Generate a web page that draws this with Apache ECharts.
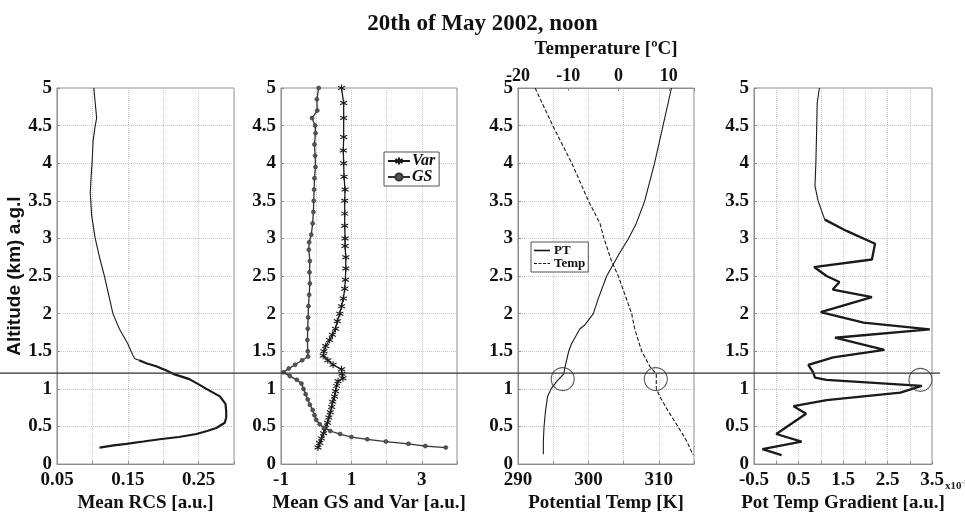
<!DOCTYPE html>
<html><head><meta charset="utf-8">
<script src="https://cdn.jsdelivr.net/npm/echarts@6/dist/echarts.min.js"></script>
<style>html,body{margin:0;padding:0;background:#fff}#c{width:965px;height:518px}</style>
</head><body><div id="c"></div>
<script>
// ---------- Panel 1: Mean RCS ----------
const altRCS = [5.0, 4.8, 4.6, 4.5, 4.3, 4.0, 3.8, 3.6, 3.3, 3.0, 2.75, 2.5, 2.25, 2.0, 1.8, 1.6, 1.45, 1.4, 1.38, 1.34, 1.3, 1.25, 1.2, 1.13, 1.05, 1.0, 0.9, 0.8, 0.7, 0.62, 0.55, 0.48, 0.44, 0.4, 0.36, 0.33, 0.3, 0.27, 0.25, 0.22];
const rcsVal = [0.102, 0.104, 0.106, 0.104, 0.101, 0.0995, 0.098, 0.097, 0.099, 0.104, 0.110, 0.117, 0.123, 0.129, 0.138, 0.150, 0.157, 0.160, 0.166, 0.176, 0.190, 0.203, 0.214, 0.237, 0.252, 0.261, 0.280, 0.288, 0.289, 0.289, 0.287, 0.275, 0.262, 0.247, 0.222, 0.195, 0.172, 0.148, 0.130, 0.110];

// ---------- Panel 2: Mean GS and Var ----------
const altVar = [5.0, 4.8, 4.6, 4.35, 4.17, 4.0, 3.82, 3.65, 3.5, 3.33, 3.17, 3.0, 2.9, 2.75, 2.6, 2.45, 2.33, 2.2, 2.1, 2.0, 1.9, 1.8, 1.72, 1.65, 1.57, 1.5, 1.44, 1.38, 1.32, 1.26, 1.2, 1.14, 1.1, 1.04, 0.97, 0.9, 0.83, 0.76, 0.69, 0.62, 0.55, 0.48, 0.41, 0.34, 0.28, 0.22];
const varVal = [0.72, 0.78, 0.78, 0.78, 0.77, 0.78, 0.79, 0.82, 0.81, 0.81, 0.81, 0.82, 0.82, 0.84, 0.84, 0.83, 0.81, 0.77, 0.72, 0.67, 0.60, 0.55, 0.46, 0.38, 0.27, 0.22, 0.20, 0.33, 0.48, 0.72, 0.73, 0.76, 0.62, 0.58, 0.55, 0.52, 0.47, 0.44, 0.40, 0.36, 0.32, 0.26, 0.21, 0.15, 0.10, 0.05];
const altGS = [5.0, 4.85, 4.7, 4.6, 4.5, 4.4, 4.25, 4.1, 3.95, 3.8, 3.65, 3.5, 3.35, 3.2, 3.05, 2.95, 2.85, 2.7, 2.55, 2.4, 2.25, 2.1, 1.95, 1.8, 1.65, 1.5, 1.43, 1.38, 1.32, 1.27, 1.22, 1.17, 1.12, 1.07, 1.0, 0.93, 0.86, 0.79, 0.72, 0.65, 0.59, 0.53, 0.48, 0.44, 0.4, 0.36, 0.33, 0.3, 0.27, 0.24, 0.22];
const gsVal = [0.07, 0.02, 0.03, -0.12, -0.03, -0.02, -0.05, -0.03, -0.02, -0.05, -0.06, -0.07, -0.08, -0.10, -0.14, -0.20, -0.21, -0.18, -0.19, -0.18, -0.20, -0.22, -0.23, -0.24, -0.25, -0.24, -0.23, -0.40, -0.60, -0.78, -0.93, -0.75, -0.55, -0.42, -0.36, -0.30, -0.24, -0.18, -0.10, -0.05, 0.0, 0.10, 0.22, 0.40, 0.68, 1.00, 1.45, 1.98, 2.62, 3.10, 3.68];

// ---------- Panel 3: Potential temperature (K) and temperature (C) ----------
const altPT = [5.0, 4.5, 4.0, 3.5, 3.2, 3.0, 2.8, 2.7, 2.5, 2.2, 2.0, 1.85, 1.8, 1.6, 1.5, 1.3, 1.2, 1.1, 1.0, 0.9, 0.7, 0.5, 0.3, 0.13];
const ptVal = [311.8, 310.6, 309.4, 308.0, 306.8, 305.7, 304.4, 303.8, 302.6, 301.4, 300.7, 299.5, 298.8, 297.6, 297.2, 296.7, 296.5, 295.5, 294.7, 294.2, 293.9, 293.7, 293.6, 293.6];
const altTemp = [5.0, 4.5, 4.0, 3.5, 3.2, 3.0, 2.7, 2.5, 2.0, 1.8, 1.5, 1.3, 1.2, 1.0, 0.9, 0.7, 0.5, 0.3, 0.12];
const tempVal = [-16.6, -13.1, -9.3, -6.0, -3.7, -2.9, -1.4, -0.05, 2.6, 3.2, 4.6, 6.2, 7.5, 7.5, 8.2, 9.9, 11.8, 13.6, 14.8];

// ---------- Panel 4: Pot temp gradient ----------
const altGrad = [5.0, 4.8, 4.5, 4.0, 3.7, 3.5, 3.25, 3.1, 2.93, 2.72, 2.62, 2.5, 2.42, 2.32, 2.22, 2.02, 1.88, 1.79, 1.68, 1.52, 1.42, 1.32, 1.22, 1.15, 1.12, 1.04, 0.95, 0.85, 0.77, 0.67, 0.4, 0.3, 0.2, 0.12];
const gradVal = [0.97, 0.92, 0.91, 0.89, 0.87, 0.94, 1.09, 1.58, 2.22, 2.15, 0.85, 1.13, 1.42, 1.27, 2.15, 1.0, 1.96, 3.45, 1.32, 2.43, 1.28, 0.72, 0.83, 0.87, 1.13, 3.27, 2.79, 1.13, 0.39, 0.67, 0.0, 0.57, -0.31, 0.12];

// ---------- Tick labels ----------
const rcsTicks = ['0.05', '0.15', '0.25'];
const gsTicks = ['-1', '1', '3'];
const ptTicks = ['290', '300', '310'];
const tempTicks = ['-20', '-10', '0', '10'];
const gradTicks = ['-0.5', '0.5', '1.5', '2.5', '3.5'];

// ---------- Markers / reference ----------
const inversionAlt = 1.21;
const circlePT = [296.35, 1.13];
const circleTemp = [7.4, 1.13];
const circleGrad = [3.24, 1.12];

const SERIF = 'Liberation Serif, Times New Roman, serif';
const INK = '#1a1a1a';
const FRAME = '#8c8c8c';

function pick(list) {
  return function (v) {
    const s = String(parseFloat(Number(v).toFixed(4)));
    return list.indexOf(s) >= 0 ? s : '';
  };
}
const zip = (xs, ys) => xs.map((x, i) => [x, ys[i]]);

const grids = [
  { left: 57, top: 88, width: 177, height: 386 },
  { left: 281, top: 88, width: 176, height: 386 },
  { left: 518, top: 88, width: 176, height: 386 },
  { left: 754, top: 88, width: 178, height: 386 }
].map(g => Object.assign({ show: true, borderColor: FRAME, borderWidth: 1, containLabel: false }, g));

const labelStyle = { fontFamily: SERIF, fontWeight: 'bold', fontSize: 19, color: '#111' };
const nameStyle = { fontFamily: SERIF, fontWeight: 'bold', fontSize: 19, color: '#111' };
const splitStyle = { show: true, lineStyle: { color: '#c9c9c9', type: 'dotted', width: 1 } };

function xAx(gi, min, max, interval, ticks, name, extra) {
  return Object.assign({
    type: 'value', gridIndex: gi, min, max, interval,
    axisLine: { show: true, onZero: false, lineStyle: { color: FRAME } },
    axisTick: { show: true, inside: true, length: 3, lineStyle: { color: FRAME } },
    axisLabel: Object.assign({ margin: 6, formatter: pick(ticks), showMaxLabel: true, showMinLabel: true }, labelStyle),
    splitLine: splitStyle,
    name, nameLocation: 'middle', nameGap: 27, nameTextStyle: nameStyle
  }, extra || {});
}
function yAx(gi, extra) {
  return Object.assign({
    type: 'value', gridIndex: gi, min: 0, max: 5, interval: 0.5,
    axisLine: { show: true, onZero: false, lineStyle: { color: FRAME } },
    axisTick: { show: true, inside: true, length: 3, lineStyle: { color: FRAME } },
    axisLabel: Object.assign({ margin: 5 }, labelStyle),
    splitLine: splitStyle
  }, extra || {});
}

const xAxes = [
  xAx(0, 0.05, 0.3, 0.05, rcsTicks, 'Mean RCS [a.u.]'),
  xAx(1, -1, 4, 1, gsTicks, 'Mean GS and Var [a.u.]'),
  xAx(2, 290, 315, 5, ptTicks, 'Potential Temp [K]'),
  xAx(2, -20, 15, 10, tempTicks, 'Temperature [ºC]', {
    position: 'top', splitLine: { show: false }, nameGap: 29,
    axisLabel: Object.assign({ margin: 3, formatter: pick(tempTicks), showMaxLabel: true }, labelStyle, { fontSize: 18 })
  }),
  xAx(3, -0.5, 3.5, 0.5, gradTicks, 'Pot Temp Gradient [a.u.]')
];
const yAxes = [
  yAx(0, { name: 'Altitude (km) a.g.l', nameLocation: 'middle', nameGap: 29,
    nameTextStyle: { fontFamily: 'Liberation Sans, Arial, sans-serif', fontWeight: 'bold', fontSize: 19, color: '#111' } }),
  yAx(1), yAx(2), yAx(3)
];

const lineBase = { type: 'line', showSymbol: false, symbol: 'none', smooth: false, animation: false, silent: true };
function ln(xi, yi, data, width, extra) {
  return Object.assign({}, lineBase, {
    xAxisIndex: xi, yAxisIndex: yi, data,
    lineStyle: { color: INK, width: width }, itemStyle: { color: INK }
  }, extra || {});
}
const rcsData = zip(rcsVal, altRCS);
const gradData = zip(gradVal, altGrad);

const asterisk = 'path://M5,0L5,10M0.7,2.5L9.3,7.5M0.7,7.5L9.3,2.5M5,5Z';

const circleSeries = (xi, yi, pt) => ({
  type: 'scatter', xAxisIndex: xi, yAxisIndex: yi, data: [pt], symbol: 'circle', symbolSize: 23,
  itemStyle: { color: 'rgba(0,0,0,0)', borderColor: '#333', borderWidth: 1.1 }, z: 10, silent: true, animation: false
});

const series = [
  ln(0, 0, rcsData.filter(d => d[1] >= 1.38), 1.1),
  ln(0, 0, rcsData.filter(d => d[1] <= 1.38), 2.2),
  Object.assign(ln(1, 1, zip(varVal, altVar), 1.3), {
    name: 'Var', showSymbol: true, symbol: asterisk, symbolSize: 7,
    itemStyle: { color: INK, borderColor: INK, borderWidth: 1.1 }
  }),
  Object.assign(ln(1, 1, zip(gsVal, altGS), 1.3), {
    name: 'GS', showSymbol: true, symbol: 'circle', symbolSize: 4,
    lineStyle: { color: '#333', width: 1.3 },
    itemStyle: { color: '#555', borderColor: '#333', borderWidth: 0.6 }
  }),
  Object.assign(ln(2, 2, zip(ptVal, altPT), 1.1), { name: 'PT' }),
  Object.assign(ln(3, 2, zip(tempVal, altTemp), 1.1), { name: 'Temp', lineStyle: { color: INK, width: 1.1, type: [4, 2] } }),
  ln(4, 3, gradData.filter(d => d[1] >= 3.25), 1.1),
  ln(4, 3, gradData.filter(d => d[1] <= 3.25), 2.3),
  circleSeries(2, 2, circlePT),
  circleSeries(3, 2, circleTemp),
  circleSeries(4, 3, circleGrad)
];

const legendBase = {
  orient: 'vertical', show: true, backgroundColor: '#fff', borderColor: '#555', borderWidth: 1,
  itemGap: 0, selectedMode: false
};

const chart = echarts.init(document.getElementById('c'), null, { renderer: 'canvas' });
chart.setOption({
  backgroundColor: '#ffffff',
  animation: false,
  title: {
    text: '20th of May 2002, noon', left: 'center', top: 8,
    textStyle: { fontFamily: SERIF, fontWeight: 'bold', fontSize: 23, color: '#111' }
  },
  legend: [
    Object.assign({}, legendBase, {
      data: ['Var', 'GS'], left: 384, top: 152, padding: [1, 4, 1, 3], itemWidth: 22, itemHeight: 9,
      textStyle: { fontFamily: SERIF, fontWeight: 'bold', fontStyle: 'italic', fontSize: 16, lineHeight: 12, color: '#111', padding: [0, 0, 0, -3] }
    }),
    Object.assign({}, legendBase, {
      data: [
        { name: 'PT', icon: 'path://M0,0L16,0L16,1.6L0,1.6Z' },
        { name: 'Temp', icon: 'path://M0,0L3,0L3,1.2L0,1.2ZM4.5,0L7.5,0L7.5,1.2L4.5,1.2ZM9,0L12,0L12,1.2L9,1.2ZM13.5,0L16,0L16,1.2L13.5,1.2Z' }
      ],
      left: 531, top: 242, padding: [2, 3, 2, 3], itemWidth: 16, itemHeight: 2,
      textStyle: { fontFamily: SERIF, fontWeight: 'bold', fontSize: 13, lineHeight: 12, color: '#111', padding: [0, 0, 0, -1] }
    })
  ],
  grid: grids,
  xAxis: xAxes,
  yAxis: yAxes,
  series: series
});

const yLine = chart.convertToPixel({ yAxisIndex: 0 }, inversionAlt);
chart.setOption({
  graphic: [
    { type: 'line', shape: { x1: 0, y1: yLine, x2: 940, y2: yLine }, style: { stroke: '#333', lineWidth: 1.2 }, z: 20, silent: true },
    {
      type: 'text', left: 945, top: 479, silent: true,
      style: {
        text: '{a|x10}{b|-3}',
        rich: {
          a: { fontFamily: SERIF, fontSize: 11, fontWeight: 'bold', fill: '#222' },
          b: { fontFamily: SERIF, fontSize: 7, fill: '#222', verticalAlign: 'top', padding: [0, 0, 8, 0] }
        }
      }
    }
  ]
});
</script>
</body></html>
